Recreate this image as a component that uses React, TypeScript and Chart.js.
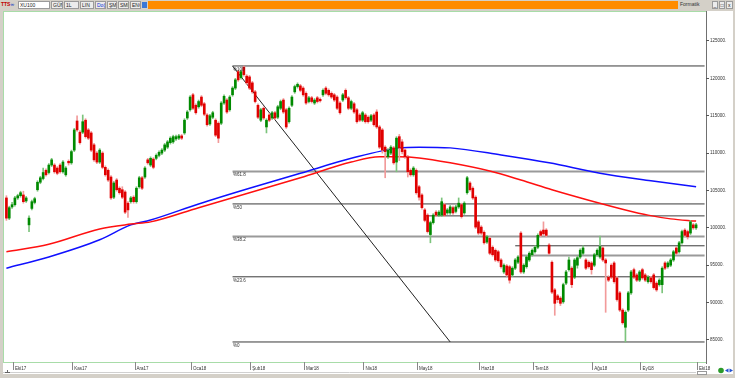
import React, { useEffect, useRef } from "react";
import { Chart, registerables } from "chart.js";

Chart.register(...registerables);

const TOTAL = 248;

const monthLabels = ["Eki17", "Kas17", "Ara17", "Oca18", "Şub18", "Mar18", "Nis18", "May18", "Haz18", "Tem18", "Ağu18", "Eyl18", "Eki18"];
const monthIndex = [3, 24, 46, 66, 87, 106, 127, 146, 168, 187, 208, 225, 245];

const yTicks = [85, 90, 95, 100, 105, 110, 115, 120, 125];

const opens = [
  104.0, 101.3, 102.8, 103.1, 104.0, 104.3, 104.4, 103.6, 100.4, 102.6,
  103.4, 105.1, 106.1, 106.6, 107.7, 107.4, 108.4, 108.4, 108.0, 108.4,
  107.5, 107.1, 108.9, 108.7, 110.4, 114.3, 112.8, 112.8, 114.4, 113.1,
  112.7, 111.1, 110.0, 108.8, 110.0, 108.1, 107.7, 106.8, 104.1, 106.4,
  105.3, 105.1, 104.8, 103.3, 103.5, 104.1, 103.5, 105.5, 106.7, 106.8,
  109.1, 108.4, 109.2, 109.3, 109.7, 110.0, 110.4, 110.8, 111.4, 111.5,
  111.9, 112.0, 112.3, 112.7, 114.7, 115.8, 117.8, 116.4, 116.2, 117.5,
  116.6, 115.1, 113.9, 114.8, 114.4, 114.0, 114.0, 116.7, 117.1, 115.8,
  117.8, 118.7, 120.9, 120.1, 121.5, 120.3, 120.2, 119.4, 118.2, 116.4,
  114.4, 116.0, 113.5, 115.1, 114.7, 115.4, 114.8, 116.0, 117.1, 115.8,
  114.2, 116.4, 118.2, 118.9, 119.0, 118.7, 118.0, 116.9, 117.4, 116.7,
  117.4, 117.2, 117.8, 118.7, 118.4, 118.0, 117.8, 117.5, 116.7, 117.1,
  118.4, 117.4, 116.0, 116.6, 115.8, 115.1, 114.4, 115.1, 114.8, 114.4,
  115.1, 115.5, 113.5, 113.1, 110.8, 109.5, 110.0, 110.7, 108.8, 112.2,
  111.5, 110.4, 109.5, 107.7, 107.1, 107.7, 105.5, 104.4, 102.4, 101.7,
  99.1, 100.7, 102.1, 101.7, 101.7, 103.1, 102.0, 102.0, 102.7, 102.2,
  102.8, 103.1, 102.0, 104.7, 106.0, 105.3, 104.1, 100.8, 100.1, 99.4,
  98.1, 98.6, 97.4, 97.0, 96.8, 95.7, 94.1, 94.9, 94.8, 93.7,
  94.6, 95.4, 99.3, 94.1, 94.8, 95.7, 96.4, 96.8, 97.4, 99.5,
  99.7, 99.7, 97.7, 95.4, 91.7, 90.9, 90.6, 90.1, 92.6, 94.4,
  94.6, 93.4, 95.0, 96.1, 96.6, 95.7, 95.4, 95.3, 95.0, 96.4,
  96.1, 97.3, 95.7, 93.4, 95.0, 95.3, 93.3, 91.3, 89.0, 86.7,
  89.0, 91.3, 94.4, 93.7, 93.0, 94.4, 93.7, 92.8, 93.3, 93.7,
  92.6, 92.4, 92.4, 95.3, 94.8, 95.0, 95.7, 97.3, 96.8, 98.0,
  99.7, 99.5, 99.3, 100.4, 100.0,
];

const highs = [
  104.3, 102.9, 103.4, 104.2, 104.5, 104.9, 104.9, 104.2, 101.6, 103.7,
  104.1, 106.3, 106.9, 108.0, 107.9, 108.6, 109.3, 108.6, 108.2, 108.6,
  109.0, 108.2, 109.1, 110.4, 113.3, 115.0, 113.0, 115.1, 114.6, 113.3,
  112.9, 111.3, 110.2, 110.6, 110.2, 108.3, 107.9, 107.0, 106.2, 106.6,
  105.5, 105.5, 105.0, 103.5, 104.2, 104.3, 105.5, 106.9, 106.9, 108.2,
  109.3, 109.5, 109.4, 109.9, 110.3, 110.6, 111.3, 111.7, 112.2, 112.4,
  112.4, 112.5, 112.5, 114.6, 115.7, 117.7, 118.0, 116.6, 117.1, 117.7,
  116.8, 115.3, 115.2, 115.6, 114.6, 114.2, 116.9, 117.8, 117.3, 117.7,
  118.9, 120.0, 121.1, 121.1, 121.66, 120.5, 120.4, 119.6, 118.4, 116.6,
  116.0, 116.2, 114.6, 115.3, 115.6, 115.6, 116.4, 117.1, 117.3, 116.0,
  116.2, 117.7, 119.1, 119.4, 119.2, 118.9, 118.2, 117.6, 117.6, 117.3,
  117.6, 117.4, 118.6, 118.9, 118.6, 118.2, 118.0, 117.7, 116.9, 118.0,
  118.6, 117.6, 117.1, 116.8, 116.0, 115.3, 115.6, 115.3, 115.0, 115.2,
  115.3, 115.8, 113.7, 113.3, 111.0, 110.6, 111.0, 110.9, 112.2, 112.5,
  111.8, 110.6, 109.7, 107.9, 108.2, 107.9, 105.7, 104.6, 102.6, 101.9,
  100.9, 101.9, 102.3, 102.3, 104.0, 103.3, 102.6, 103.0, 102.9, 103.0,
  104.0, 103.3, 103.5, 106.9, 106.2, 105.5, 104.3, 101.0, 100.3, 99.6,
  99.0, 98.8, 97.6, 97.2, 97.0, 95.9, 95.2, 95.1, 95.0, 94.8,
  95.9, 96.3, 99.5, 95.2, 96.3, 96.8, 97.2, 97.6, 99.2, 99.7,
  100.8, 99.9, 97.9, 95.6, 91.9, 91.1, 90.8, 92.6, 94.3, 96.1,
  94.8, 95.9, 96.2, 97.2, 97.6, 95.9, 95.6, 95.5, 96.6, 97.2,
  98.9, 97.5, 95.9, 93.6, 95.2, 95.5, 93.5, 91.5, 89.2, 88.9,
  91.5, 94.3, 94.6, 93.9, 94.3, 94.6, 93.9, 93.6, 93.5, 93.9,
  92.8, 93.2, 94.8, 95.5, 95.5, 95.9, 97.0, 97.5, 98.2, 99.7,
  99.9, 99.7, 101.0, 100.6, 100.6,
];

const lows = [
  101.0, 101.1, 102.6, 102.9, 103.8, 104.1, 103.3, 103.4, 99.5, 102.4,
  103.2, 104.9, 105.9, 106.4, 106.9, 107.2, 108.2, 107.3, 107.1, 107.3,
  107.3, 106.9, 108.4, 108.5, 110.2, 112.9, 111.2, 112.6, 112.0, 111.8,
  110.2, 108.9, 108.6, 108.6, 107.9, 106.9, 106.2, 103.8, 103.9, 104.9,
  104.5, 103.9, 101.9, 101.4, 103.3, 103.3, 103.3, 105.3, 105.1, 106.6,
  108.5, 108.2, 107.9, 109.1, 109.5, 109.8, 110.2, 110.6, 111.2, 111.3,
  111.7, 111.8, 111.8, 112.5, 114.5, 115.6, 115.8, 115.2, 116.0, 116.2,
  115.0, 113.6, 113.7, 114.6, 112.2, 111.4, 113.8, 116.5, 115.3, 115.6,
  117.6, 118.5, 119.6, 119.9, 120.3, 119.2, 118.5, 118.0, 116.7, 114.6,
  114.2, 114.5, 112.7, 114.2, 114.5, 114.5, 114.6, 115.8, 115.3, 113.3,
  114.0, 116.2, 118.0, 118.7, 118.2, 117.6, 116.5, 116.7, 116.7, 116.5,
  116.7, 116.8, 117.6, 117.8, 117.6, 117.3, 116.9, 115.8, 115.2, 116.9,
  117.2, 115.8, 115.8, 115.3, 114.0, 114.2, 114.2, 114.0, 114.0, 114.2,
  113.6, 113.3, 110.6, 110.0, 106.7, 109.3, 109.8, 108.5, 107.5, 109.0,
  109.9, 109.3, 106.8, 106.9, 106.9, 104.5, 103.7, 102.5, 100.8, 99.3,
  98.0, 100.5, 101.5, 101.5, 101.5, 101.5, 101.8, 101.8, 101.8, 102.0,
  102.6, 101.3, 101.8, 104.5, 104.9, 103.8, 99.9, 99.1, 99.1, 97.8,
  97.9, 96.4, 96.2, 95.5, 95.4, 94.6, 93.9, 93.5, 92.6, 93.5,
  94.4, 95.2, 93.9, 93.9, 94.6, 95.5, 96.2, 96.6, 97.2, 98.8,
  99.0, 98.8, 96.4, 91.2, 88.3, 90.0, 89.6, 89.9, 92.4, 94.2,
  92.0, 93.2, 94.6, 95.9, 96.4, 94.4, 94.6, 93.8, 94.8, 96.2,
  95.9, 95.5, 88.7, 92.8, 93.2, 92.6, 90.2, 88.8, 87.1, 84.73,
  88.8, 91.1, 93.2, 92.8, 92.8, 93.1, 92.8, 92.6, 92.6, 91.8,
  91.5, 92.2, 91.3, 94.4, 94.6, 94.8, 95.5, 96.4, 96.6, 97.8,
  98.8, 98.5, 99.1, 99.8, 99.8,
];

const closes = [
  101.3, 102.7, 103.1, 104.0, 104.3, 104.7, 103.5, 104.0, 101.3, 103.5,
  103.9, 106.1, 106.7, 107.4, 107.1, 108.4, 109.1, 107.5, 107.3, 107.5,
  108.8, 108.0, 108.7, 110.2, 113.1, 113.1, 111.4, 114.2, 112.2, 112.0,
  110.4, 109.1, 108.8, 110.4, 108.1, 107.1, 106.4, 104.0, 106.0, 105.1,
  104.7, 104.1, 102.1, 102.4, 104.0, 103.5, 105.3, 106.7, 105.3, 108.0,
  108.7, 109.3, 108.1, 109.7, 110.1, 110.4, 111.1, 111.5, 112.0, 112.2,
  112.2, 112.3, 112.0, 114.4, 115.5, 117.5, 116.0, 115.4, 116.9, 116.4,
  115.2, 113.8, 115.0, 115.4, 112.4, 112.0, 116.7, 117.6, 115.5, 117.5,
  118.7, 119.8, 119.8, 120.9, 120.5, 119.4, 118.7, 118.2, 116.9, 114.8,
  115.8, 114.7, 114.4, 114.4, 115.4, 114.7, 116.2, 116.9, 115.5, 113.5,
  116.0, 117.5, 118.9, 119.2, 118.4, 117.8, 116.7, 117.4, 116.9, 117.1,
  116.9, 117.0, 118.4, 118.0, 117.8, 117.5, 117.1, 116.0, 115.4, 117.8,
  117.4, 116.0, 116.9, 115.5, 114.2, 114.4, 115.4, 114.2, 114.2, 115.0,
  113.8, 113.5, 110.8, 110.4, 110.2, 110.4, 110.8, 108.7, 112.0, 110.7,
  110.2, 109.5, 107.5, 107.1, 108.0, 104.7, 104.1, 102.7, 101.0, 99.5,
  100.7, 101.7, 101.7, 102.1, 103.5, 101.7, 102.4, 102.8, 102.0, 102.8,
  103.3, 101.5, 103.3, 106.7, 105.1, 104.0, 100.1, 99.3, 99.3, 98.0,
  98.8, 96.6, 96.4, 95.7, 95.6, 94.8, 95.0, 93.7, 93.0, 94.6,
  95.7, 96.1, 94.1, 95.0, 96.1, 96.6, 97.0, 97.4, 99.0, 99.0,
  99.2, 99.0, 96.6, 91.4, 89.9, 90.4, 89.9, 92.4, 94.1, 95.7,
  92.4, 95.7, 96.0, 97.0, 97.3, 94.6, 94.8, 94.4, 96.4, 97.0,
  97.5, 95.7, 95.3, 93.0, 93.4, 92.8, 90.4, 89.0, 87.3, 88.7,
  91.3, 94.1, 93.4, 93.0, 94.1, 93.3, 93.0, 93.4, 92.8, 92.0,
  91.7, 93.0, 94.6, 94.6, 95.3, 95.7, 96.8, 96.6, 98.0, 99.5,
  99.0, 98.8, 100.8, 100.0, 100.4,
];

// moving averages, read at sample candles
const redMaIdx = [0, 15, 33, 44, 51, 68, 86, 104, 122, 132, 139, 146, 157, 171, 182, 193, 206, 219, 227, 235, 244];
const redMaVal = [96.8, 97.8, 99.85, 100.5, 100.8, 102.7, 104.7, 106.7, 108.8, 109.5, 109.5, 109.35, 108.7, 107.6, 106.4, 105.1, 103.7, 102.4, 101.7, 101.2, 100.9];
const blueMaIdx = [0, 15, 33, 44, 51, 68, 86, 104, 122, 139, 146, 157, 175, 192, 210, 228, 244];
const blueMaVal = [94.6, 96.1, 98.4, 100.4, 101.05, 103.2, 105.3, 107.3, 109.3, 110.7, 110.8, 110.7, 109.75, 108.7, 107.3, 106.3, 105.5];

// Fibonacci drawing
const fibStart = 80;
const fibLevels = [121.66, 107.55, 103.2, 98.84, 93.45, 84.73];
const fibLabels = ["%100", "%61.8", "%50", "%38.2", "%23.6", "%0"];
const fibGray = [false, true, false, true, false, false];
const trendStart = [80, 121.66];
const trendEnd = [157, 84.73];

// extra horizontal lines
const extraLevels = [101.6, 97.6, 96.3];
const extraStart = [148, 180, 182];
const extraGray = [false, false, true];

const FONT = '"Liberation Sans", Arial, sans-serif';

function sparse(idx: number[], vals: number[]) {
  const arr: (number | null)[] = new Array(TOTAL).fill(null);
  idx.forEach((k, j) => {
    arr[k] = vals[j];
  });
  return arr;
}

function Toolbar() {
  const box = (left: number, width: number, text: string, extra: any = {}) => (
    <div
      style={{
        position: "absolute",
        left,
        top: 1,
        width,
        height: 8,
        boxSizing: "border-box",
        border: "1px solid #9a9a9a",
        background: "#ececec",
        fontSize: 5,
        lineHeight: "6px",
        paddingLeft: 1,
        color: "#222",
        overflow: "hidden",
        whiteSpace: "nowrap",
        ...extra,
      }}
    >
      {text}
    </div>
  );
  return (
    <div style={{ position: "absolute", left: 0, top: 0, width: 735, height: 10, background: "#d4d0c8", fontFamily: FONT }}>
      <div style={{ position: "absolute", left: 1, top: 1, fontSize: 5, lineHeight: "7px", color: "#c00000", fontWeight: "bold" }}>
        TTS<span style={{ color: "#2040c0" }}>∞</span>
      </div>
      {box(18, 32, "XU100", { background: "#fff" })}
      {box(51, 12, "GÜN")}
      {box(64, 15, "1L")}
      {box(80, 14, "LIN")}
      {box(95, 11, "Doğ", { color: "#1030d0" })}
      {box(107, 10, "ŞMB")}
      {box(118, 11, "SMB")}
      {box(130, 11, "ENG▾")}
      <div style={{ position: "absolute", left: 142, top: 2, width: 5, height: 6, background: "#3a78d8" }} />
      <div style={{ position: "absolute", left: 148, top: 1, width: 530, height: 8, background: "#ff8c00" }} />
      <div style={{ position: "absolute", left: 680, top: 1, fontSize: 5, lineHeight: "7px", color: "#333" }}>Formatik</div>
      {box(712, 6, "_", { paddingLeft: 0.5 })}
      {box(719, 6, "□", { paddingLeft: 0.5 })}
      {box(726, 7, "x", { paddingLeft: 1 })}
    </div>
  );
}

export default function App() {
  const canvasRef = useRef<HTMLCanvasElement | null>(null);

  useEffect(() => {
    document.body.style.margin = "0";
    const canvas = canvasRef.current;
    if (!canvas) return;

    const labels = Array.from({ length: TOTAL }, (_, i) => {
      const k = monthIndex.indexOf(i);
      return k >= 0 ? monthLabels[k] : "";
    });
    const monthSet = new Set(monthIndex);

    const bodyColors = closes.map((c, i) => (c >= opens[i] ? "#008a00" : "#e00000"));
    const wickColors = closes.map((c, i) => (c >= opens[i] ? "#7cc47c" : "#f29a9a"));

    const datasets: any[] = [];

    fibLevels.forEach((lv, k) => {
      datasets.push({
        type: "line",
        data: sparse([fibStart, TOTAL - 1], [lv, lv]),
        borderColor: fibGray[k] ? "#9a9a9a" : "#3a3a3a",
        borderWidth: fibGray[k] ? 2 : 1,
        pointRadius: 0,
        spanGaps: true,
        order: 6,
      });
    });
    extraLevels.forEach((lv, k) => {
      datasets.push({
        type: "line",
        data: sparse([extraStart[k], TOTAL - 1], [lv, lv]),
        borderColor: extraGray[k] ? "#9a9a9a" : "#3a3a3a",
        borderWidth: extraGray[k] ? 2 : 1,
        pointRadius: 0,
        spanGaps: true,
        order: 6,
      });
    });
    datasets.push({
      type: "line",
      data: sparse([trendStart[0], trendEnd[0]], [trendStart[1], trendEnd[1]]),
      borderColor: "#222",
      borderWidth: 1,
      pointRadius: 0,
      spanGaps: true,
      order: 5,
    });
    datasets.push({
      type: "line",
      data: sparse(blueMaIdx, blueMaVal),
      borderColor: "#1010ff",
      borderWidth: 1.5,
      pointRadius: 0,
      spanGaps: true,
      cubicInterpolationMode: "monotone",
      order: 4,
    });
    datasets.push({
      type: "line",
      data: sparse(redMaIdx, redMaVal),
      borderColor: "#ff1010",
      borderWidth: 1.5,
      pointRadius: 0,
      spanGaps: true,
      cubicInterpolationMode: "monotone",
      order: 3,
    });
    datasets.push({
      type: "bar",
      data: lows.map((l, i) => [l, highs[i]]),
      backgroundColor: wickColors,
      barThickness: 1,
      grouped: false,
      order: 2,
    });
    datasets.push({
      type: "bar",
      data: opens.map((o, i) => [o, closes[i]]),
      backgroundColor: bodyColors,
      barThickness: 2,
      minBarLength: 1,
      grouped: false,
      order: 1,
    });

    const framePlugin = {
      id: "frame",
      beforeDraw(chart: any) {
        const ctx = chart.ctx;
        ctx.save();
        ctx.fillStyle = "#ffffff";
        ctx.fillRect(0, 0, 735, 378);
        ctx.fillStyle = "#d4d0c8";
        ctx.fillRect(0, 0, 735, 11);
        ctx.fillRect(0, 0, 3, 378);
        ctx.fillRect(0, 374, 735, 4);
        ctx.fillRect(733, 0, 2, 378);
        ctx.strokeStyle = "#a8dca8";
        ctx.lineWidth = 1;
        ctx.strokeRect(3.5, 11.5, 703, 351);
        ctx.strokeStyle = "#d0d0d0";
        ctx.beginPath();
        ctx.moveTo(3, 372.5);
        ctx.lineTo(696, 372.5);
        ctx.stroke();
        // right axis line
        ctx.strokeStyle = "#707070";
        ctx.beginPath();
        ctx.moveTo(706.5, 11);
        ctx.lineTo(706.5, 364);
        ctx.stroke();
        ctx.restore();
      },
      afterDatasetsDraw(chart: any) {
        const ctx = chart.ctx;
        const xs = chart.scales.x;
        const ys = chart.scales.y;
        ctx.save();
        ctx.font = `4.5px ${FONT}`;
        ctx.fillStyle = "#333";
        ctx.textBaseline = "top";
        ctx.textAlign = "left";
        const x0 = xs.getPixelForValue(fibStart);
        fibLevels.forEach((lv, k) => {
          ctx.fillText(fibLabels[k], x0 + 0.5, ys.getPixelForValue(lv) + 1.5);
        });
        ctx.restore();
      },
      afterDraw(chart: any) {
        const ctx = chart.ctx;
        ctx.save();
        // bottom-left marker
        ctx.strokeStyle = "#666";
        ctx.lineWidth = 1;
        ctx.beginPath();
        ctx.moveTo(5, 372.5);
        ctx.lineTo(10, 372.5);
        ctx.moveTo(7.5, 370);
        ctx.lineTo(7.5, 372.5);
        ctx.stroke();
        // current-date box under last label
        ctx.strokeStyle = "#999";
        ctx.strokeRect(697.5, 371.5, 9, 3);
        // bottom-right icons
        ctx.fillStyle = "#2a9a2a";
        ctx.beginPath();
        ctx.arc(721, 370.5, 2.8, 0, Math.PI * 2);
        ctx.fill();
        ctx.fillStyle = "#2050d0";
        ctx.beginPath();
        ctx.moveTo(725, 370.5);
        ctx.lineTo(728.5, 368.5);
        ctx.lineTo(728.5, 372.5);
        ctx.closePath();
        ctx.fill();
        ctx.beginPath();
        ctx.moveTo(733, 370.5);
        ctx.lineTo(729.5, 368.5);
        ctx.lineTo(729.5, 372.5);
        ctx.closePath();
        ctx.fill();
        ctx.restore();
      },
    };

    const chart = new Chart(canvas, {
      type: "bar",
      data: { labels, datasets },
      plugins: [framePlugin],
      options: {
        responsive: false,
        maintainAspectRatio: false,
        animation: false,
        events: [],
        layout: { padding: { left: 5, top: 12, right: 0, bottom: 3 } },
        plugins: { legend: { display: false }, tooltip: { enabled: false } },
        scales: {
          x: {
            type: "category",
            offset: true,
            border: { display: false },
            grid: {
              offset: true,
              drawOnChartArea: false,
              drawTicks: true,
              tickLength: 8,
              lineWidth: 1,
              color: (c: any) => (monthSet.has(c.index) ? "#888" : "rgba(0,0,0,0)"),
            },
            ticks: {
              autoSkip: false,
              maxRotation: 0,
              minRotation: 0,
              align: "start",
              padding: -4,
              color: "#333",
              font: { size: 4.5, family: FONT },
            },
            afterFit: (s: any) => {
              s.height = 13;
            },
          },
          y: {
            position: "right",
            min: 82.05,
            max: 128.88,
            border: { display: false },
            afterBuildTicks: (s: any) => {
              s.ticks = yTicks.map((v) => ({ value: v }));
            },
            grid: { drawOnChartArea: false, tickLength: 3, color: "#555" },
            ticks: {
              padding: 1,
              color: "#333",
              font: { size: 4.5, family: FONT },
              callback: (v: any) => `${Math.round(Number(v) * 1000)}.`,
            },
            afterFit: (s: any) => {
              s.width = 29;
            },
          },
        },
      } as any,
    });

    return () => chart.destroy();
  }, []);

  return (
    <div style={{ position: "relative", width: 735, height: 378, overflow: "hidden" }}>
      <canvas ref={canvasRef} width={735} height={378} style={{ display: "block", width: 735, height: 378 }} />
      <Toolbar />
    </div>
  );
}
